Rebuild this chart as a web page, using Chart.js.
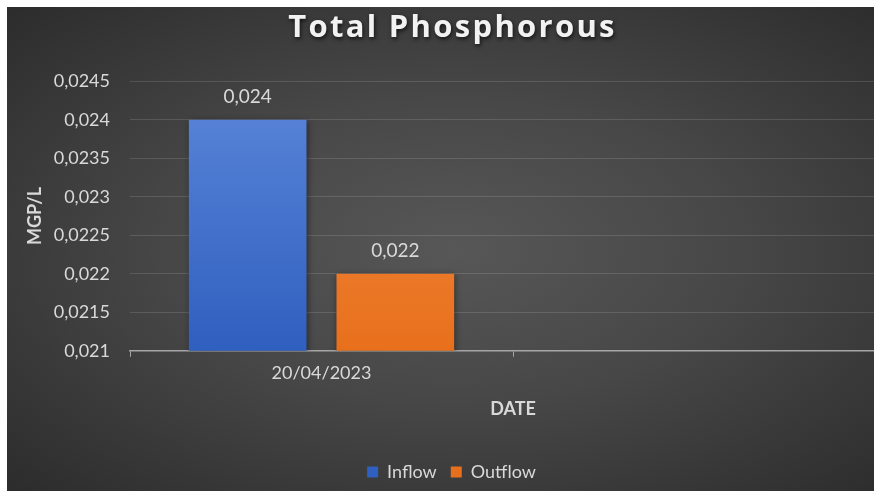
<!DOCTYPE html>
<html lang="en">
<head>
    <meta charset="UTF-8">
    <title>Total Phosphorous</title>
    <script src="https://cdn.jsdelivr.net/npm/chart.js"></script>
    <style>
        html, body { margin: 0; padding: 0; background: #fff; overflow: hidden; }
        #wrap {
            position: absolute; left: 7px; top: 7px; width: 896px; height: 484px;
            background: radial-gradient(ellipse farthest-corner at 50% 50%, #575757 0%, #474747 45%, #2c2c2c 100%);
        }
    </style>
</head>
<body>
<div id="wrap"><canvas id="tpChart"></canvas></div>
<script>
    const categories = ['20/04/2023', ''];
    const inflow = [0.024, null];
    const outflow = [0.022, null];
    const yTicks = { min: 0.021, max: 0.0245, step: 0.0005 };
    const chartTitle = 'Total Phosphorous';

    const comma = v => String(parseFloat(v.toFixed(4))).replace('.', ',');
    const txt = '#d9d9d9';
    const fam = 'Lato, "Open Sans", sans-serif';
    const titleFont = 'bold 31px "Open Sans", sans-serif';

    const grad = (c, top, bottom) => {
        const area = c.chart.chartArea;
        if (!area) return bottom;
        const g = c.chart.ctx.createLinearGradient(0, area.top, 0, area.bottom);
        g.addColorStop(0, top);
        g.addColorStop(1, bottom);
        return g;
    };

    // bar shadow, value labels above bars, spaced title with shadow
    const extras = {
        id: 'extras',
        beforeDatasetsDraw(chart) {
            const ctx = chart.ctx;
            ctx.save();
            ctx.shadowColor = 'rgba(0,0,0,0.45)';
            ctx.shadowBlur = 6;
            ctx.shadowOffsetX = 1;
            ctx.shadowOffsetY = 1;
        },
        afterDatasetsDraw(chart) {
            const ctx = chart.ctx;
            ctx.restore();
            ctx.save();
            ctx.fillStyle = txt;
            ctx.font = '19px ' + fam;
            ctx.textAlign = 'center';
            ctx.textBaseline = 'middle';
            chart.data.datasets.forEach((ds, i) => {
                chart.getDatasetMeta(i).data.forEach((bar, j) => {
                    if (ds.data[j] == null) return;
                    ctx.fillText(comma(ds.data[j]), bar.x, bar.y - 23);
                });
            });
            ctx.restore();
        },
        afterDraw(chart) {
            const tb = chart.titleBlock;
            if (!tb) return;
            const ctx = chart.ctx;
            ctx.save();
            ctx.font = titleFont;
            ctx.letterSpacing = '2.3px';
            ctx.textAlign = 'center';
            ctx.textBaseline = 'middle';
            ctx.shadowColor = 'rgba(0,0,0,0.7)';
            ctx.shadowBlur = 4;
            ctx.shadowOffsetX = 1;
            ctx.shadowOffsetY = 2;
            ctx.fillStyle = '#f2f2f2';
            ctx.fillText(chartTitle, (tb.left + tb.right) / 2 + 1, tb.top + 3 + 31 * 1.2 / 2);
            ctx.restore();
        }
    };

    new Chart(document.getElementById('tpChart'), {
        type: 'bar',
        data: {
            labels: categories,
            datasets: [
                {
                    label: 'Inflow',
                    data: inflow,
                    backgroundColor: c => grad(c, '#5b86d9', '#2f5fbf'),
                    categoryPercentage: 0.771,
                    barPercentage: 0.797
                },
                {
                    label: 'Outflow',
                    data: outflow,
                    backgroundColor: c => grad(c, '#f28c45', '#e8701c'),
                    categoryPercentage: 0.771,
                    barPercentage: 0.797
                }
            ]
        },
        options: {
            responsive: true,
            maintainAspectRatio: false,
            animation: false,
            layout: { padding: { right: 7, bottom: 0 } },
            plugins: {
                title: {
                    display: true,
                    text: chartTitle,
                    color: 'rgba(0,0,0,0)',
                    font: { family: '"Open Sans", sans-serif', size: 31, weight: 'bold' },
                    padding: { top: 3, bottom: 34 }
                },
                legend: {
                    position: 'bottom',
                    labels: {
                        color: txt,
                        font: { family: fam, size: 18 },
                        boxWidth: 11,
                        boxHeight: 11,
                        padding: 14,
                        useBorderRadius: false
                    }
                },
                tooltip: { enabled: false }
            },
            scales: {
                x: {
                    grid: {
                        drawOnChartArea: false,
                        color: '#a6a6a6',
                        tickLength: 6,
                        offset: true
                    },
                    border: { color: '#a6a6a6', width: 1.5 },
                    ticks: {
                        color: txt,
                        font: { family: fam, size: 18 },
                        padding: 6
                    },
                    title: {
                        display: true,
                        text: 'DATE',
                        color: txt,
                        font: { family: fam, size: 18, weight: 'bold' },
                        padding: { top: 8, bottom: 29 }
                    }
                },
                y: {
                    min: yTicks.min,
                    max: yTicks.max,
                    grid: {
                        color: 'rgba(255,255,255,0.13)',
                        drawTicks: false
                    },
                    border: { display: false },
                    ticks: {
                        stepSize: yTicks.step,
                        color: txt,
                        font: { family: fam, size: 18 },
                        padding: 20,
                        callback: v => comma(v)
                    },
                    title: {
                        display: true,
                        text: 'MGP/L',
                        color: txt,
                        font: { family: fam, size: 18, weight: 'bold' },
                        padding: { top: 17, bottom: 8 }
                    },
                    afterFit: s => { s.width = 123; }
                }
            }
        },
        plugins: [extras]
    });
</script>
</body>
</html>
